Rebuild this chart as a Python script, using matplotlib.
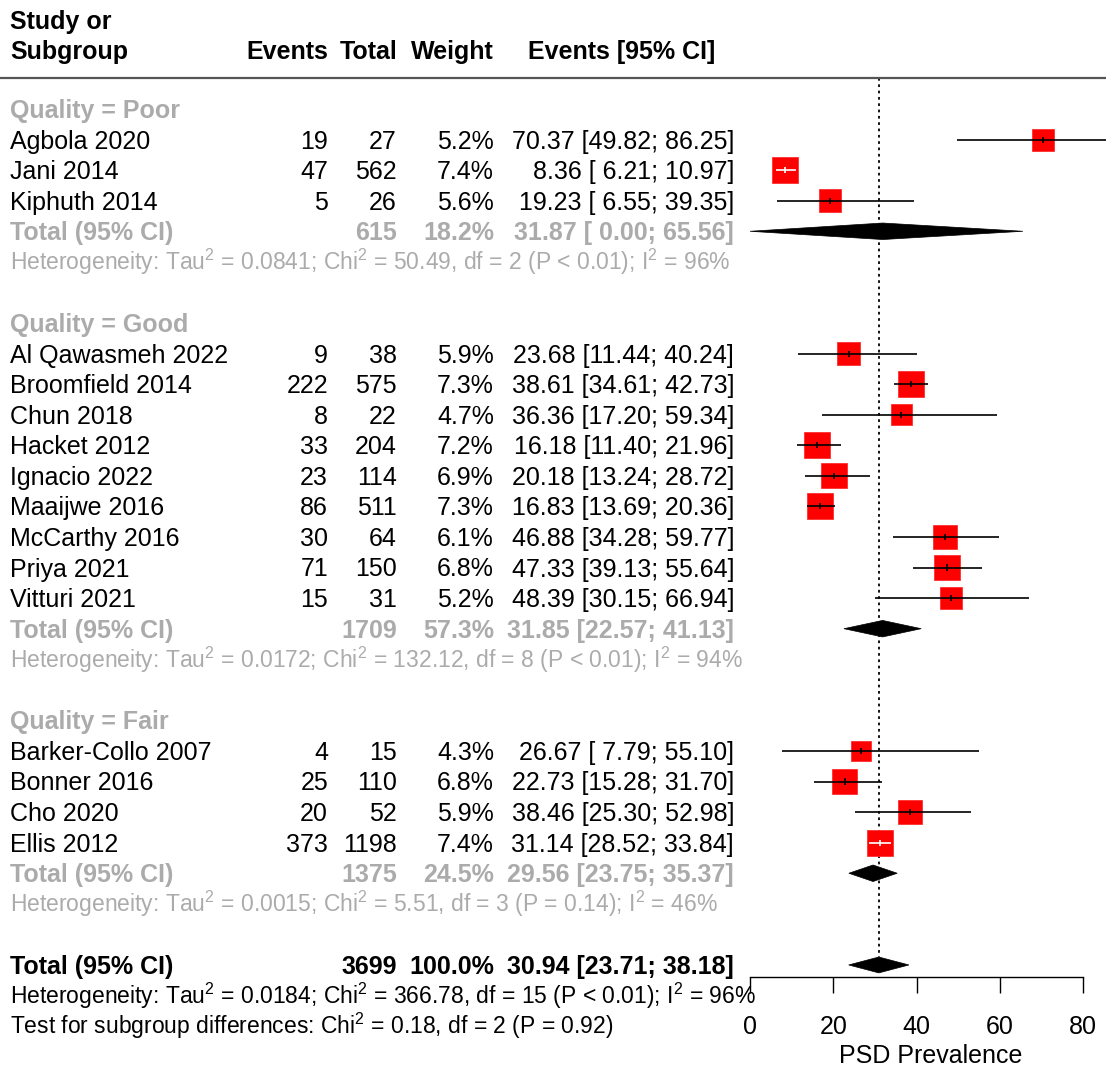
import numpy as np
import matplotlib.pyplot as plt
from matplotlib.patches import Rectangle, Polygon
from matplotlib.lines import Line2D
from matplotlib.transforms import blended_transform_factory

# =============================================================================
# Datos
# =============================================================================

grupos = ["Poor", "Good", "Fair"]

estudios = [["Agbola 2020", "Jani 2014", "Kiphuth 2014"],
            ["Al Qawasmeh 2022", "Broomfield 2014", "Chun 2018", "Hacket 2012",
             "Ignacio 2022", "Maaijwe 2016", "McCarthy 2016", "Priya 2021",
             "Vitturi 2021"],
            ["Barker-Collo 2007", "Bonner 2016", "Cho 2020", "Ellis 2012"]]

eventos = [[19, 47, 5],
           [9, 222, 8, 33, 23, 86, 30, 71, 15],
           [4, 25, 20, 373]]

totales = [[27, 562, 26],
           [38, 575, 22, 204, 114, 511, 64, 150, 31],
           [15, 110, 52, 1198]]

pesos = [[5.2, 7.4, 5.6],
         [5.9, 7.3, 4.7, 7.2, 6.9, 7.3, 6.1, 6.8, 5.2],
         [4.3, 6.8, 5.9, 7.4]]

est = [[70.37, 8.36, 19.23],
       [23.68, 38.61, 36.36, 16.18, 20.18, 16.83, 46.88, 47.33, 48.39],
       [26.67, 22.73, 38.46, 31.14]]

inf = [[49.82, 6.21, 6.55],
       [11.44, 34.61, 17.20, 11.40, 13.24, 13.69, 34.28, 39.13, 30.15],
       [7.79, 15.28, 25.30, 28.52]]

sup = [[86.25, 10.97, 39.35],
       [40.24, 42.73, 59.34, 21.96, 28.72, 20.36, 59.77, 55.64, 66.94],
       [55.10, 31.70, 52.98, 33.84]]

# Totales por subgrupo
sub_n = [615, 1709, 1375]
sub_w = [18.2, 57.3, 24.5]
sub_est = [31.87, 31.85, 29.56]
sub_inf = [0.00, 22.57, 23.75]
sub_sup = [65.56, 41.13, 35.37]
sub_het = ["Heterogeneity: Tau$^2$ = 0.0841; Chi$^2$ = 50.49, df = 2 (P < 0.01); I$^2$ = 96%",
           "Heterogeneity: Tau$^2$ = 0.0172; Chi$^2$ = 132.12, df = 8 (P < 0.01); I$^2$ = 94%",
           "Heterogeneity: Tau$^2$ = 0.0015; Chi$^2$ = 5.51, df = 3 (P = 0.14); I$^2$ = 46%"]

# Total global
tot_n = 3699
tot_w = 100.0
tot_est = 30.94
tot_inf = 23.71
tot_sup = 38.18
tot_het = "Heterogeneity: Tau$^2$ = 0.0184; Chi$^2$ = 366.78, df = 15 (P < 0.01); I$^2$ = 96%"
test_sub = "Test for subgroup differences: Chi$^2$ = 0.18, df = 2 (P = 0.92)"

# =============================================================================
# Figura
# =============================================================================

plt.rcParams['font.family'] = ['Liberation Sans', 'DejaVu Sans']
plt.rcParams['mathtext.fontset'] = 'custom'
plt.rcParams['mathtext.rm'] = 'Liberation Sans'
plt.rcParams['mathtext.it'] = 'Liberation Sans'
plt.rcParams['mathtext.bf'] = 'Liberation Sans:bold'

W, H = 1106, 1068
fs = 18          # texto principal
fs_het = 16.5    # heterogeneidad
gris = '#ABABAB'

px_x = 4.1625      # px por unidad en x
px_r = 30.57       # px por fila
r0 = 109           # px de la fila 0

fig = plt.figure(figsize=(W / 100, H / 100), dpi=100)
ax = fig.add_axes([750 / W, 1 - 977 / H, 356 / W, (977 - 78) / H])
ax.set_xlim(0, 356 / px_x)
ytop = (78 - r0) / px_r
ybot = (977 - r0) / px_r
ax.set_ylim(ybot, ytop)

tr = blended_transform_factory(fig.transFigure, ax.transData)


def put(x, r, s, ha='left', color='black', weight='normal', size=fs):
    off = 0.716 * size * 100 / 72 / 2 / px_r  # centro de fila a linea base
    ax.text(x / W, r + off, s, transform=tr, ha=ha, va='baseline',
            fontsize=size, color=color, fontweight=weight)


def ci_txt(e, l, h):
    return f"{e:.2f} [{l:5.2f}; {h:5.2f}]"


X_EV, X_TOT, X_W, X_CI = 328, 397, 494, 734

# Encabezado
fig.text(10 / W, 1 - 29 / H, "Study or", fontsize=fs, fontweight='bold', va='baseline')
fig.text(10 / W, 1 - 59 / H, "Subgroup", fontsize=fs, fontweight='bold', va='baseline')
for x, s, ha in [(X_EV, "Events", 'right'), (X_TOT, "Total", 'right'),
                 (X_W, "Weight", 'right'), (622, "Events [95% CI]", 'center')]:
    fig.text(x / W, 1 - 59 / H, s, fontsize=fs, fontweight='bold', va='baseline', ha=ha)
fig.add_artist(Line2D([0, 1], [1 - 78 / H] * 2, transform=fig.transFigure,
                      color='#555555', lw=1.6))

r = 0
for g in range(len(grupos)):
    put(10, r, f"Quality = {grupos[g]}", color=gris, weight='bold')
    r += 1
    for i in range(len(estudios[g])):
        put(10, r, estudios[g][i])
        put(X_EV, r, str(eventos[g][i]), ha='right')
        put(X_TOT, r, str(totales[g][i]), ha='right')
        put(X_W, r, f"{pesos[g][i]:.1f}%", ha='right')
        put(X_CI, r, ci_txt(est[g][i], inf[g][i], sup[g][i]), ha='right')

        lado = 9.6 * np.sqrt(pesos[g][i])
        ax.add_patch(Rectangle((est[g][i] - lado / 2 / px_x, r - lado / 2 / px_r),
                               lado / px_x, lado / px_r, facecolor='#FF0000',
                               edgecolor='#FF3030', lw=0.6, zorder=2))
        dentro = (inf[g][i] > est[g][i] - lado / 2 / px_x) and (sup[g][i] < est[g][i] + lado / 2 / px_x)
        col = 'white' if dentro else 'black'
        ax.hlines(r, inf[g][i], sup[g][i], color=col, lw=1.2, zorder=3)
        ax.vlines(est[g][i], r - 0.1, r + 0.1, color=col, lw=1.2, zorder=3)
        r += 1

    put(10, r, "Total (95% CI)", color=gris, weight='bold')
    put(X_TOT, r, str(sub_n[g]), ha='right', color=gris, weight='bold')
    put(X_W, r, f"{sub_w[g]:.1f}%", ha='right', color=gris, weight='bold')
    put(X_CI, r, ci_txt(sub_est[g], sub_inf[g], sub_sup[g]), ha='right', color=gris, weight='bold')
    hh = 0.27
    ax.add_patch(Polygon([(sub_inf[g], r), (sub_est[g], r - hh), (sub_sup[g], r),
                          (sub_est[g], r + hh)], closed=True, facecolor='black',
                         edgecolor='black', lw=0.5, zorder=3))
    r += 1
    put(10, r, sub_het[g], color=gris, size=fs_het)
    r += 2

# Total global
put(10, r, "Total (95% CI)", weight='bold')
put(X_TOT, r, str(tot_n), ha='right', weight='bold')
put(X_W, r, f"{tot_w:.1f}%", ha='right', weight='bold')
put(X_CI, r, ci_txt(tot_est, tot_inf, tot_sup), ha='right', weight='bold')
hh = 0.26
ax.add_patch(Polygon([(tot_inf, r), (tot_est, r - hh), (tot_sup, r), (tot_est, r + hh)],
                     closed=True, facecolor='black', edgecolor='black', lw=0.5, zorder=3))
ax.vlines(tot_est, ytop, r - hh, color='black', lw=1.3, linestyles=(0, (1.5, 2)), zorder=1)
put(10, r + 1, tot_het, size=fs_het)
put(10, r + 2, test_sub, size=fs_het)

# Eje
for s in ['top', 'left', 'right']:
    ax.spines[s].set_visible(False)
ax.spines['bottom'].set_bounds(0, 80)
ax.spines['bottom'].set_linewidth(1.0)
ax.set_yticks([])
ax.set_xticks([0, 20, 40, 60, 80])
ax.tick_params(axis='x', length=11.5, width=1.0, pad=16, labelsize=fs)
ax.set_xlabel("PSD Prevalence", fontsize=fs)
ax.xaxis.set_label_coords(43.5 / (356 / px_x), -0.075)
ax.patch.set_visible(False)

plt.savefig('out.png', dpi=100)
